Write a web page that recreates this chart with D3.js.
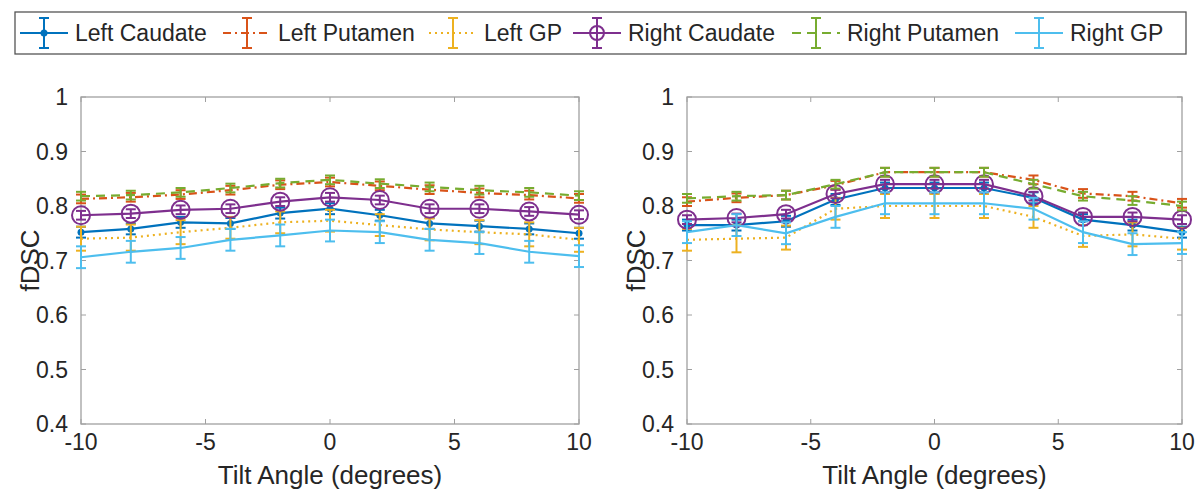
<!DOCTYPE html>
<html><head><meta charset="utf-8">
<script src="https://cdn.jsdelivr.net/npm/d3@7"></script>
<style>body{margin:0;background:#fff}svg{display:block}text{font-family:"Liberation Sans",Arial,sans-serif;fill:#262626}</style>
</head><body><svg id="c" width="1198" height="489"></svg>
<script>
const angles = [-10,-8,-6,-4,-2,0,2,4,6,8,10];
const seriesNames = ["Left Caudate","Left Putamen","Left GP","Right Caudate","Right Putamen","Right GP"];
const xTicks = [-10,-5,0,5,10];
const yTicks = [0.4,0.5,0.6,0.7,0.8,0.9,1];
const yTickLabels = ["0.4","0.5","0.6","0.7","0.8","0.9","1"];
const xLabel = "Tilt Angle (degrees)";
const yLabel = "fDSC";

// Left panel
const p1LeftCaudate   = [0.752,0.758,0.770,0.768,0.787,0.795,0.783,0.768,0.763,0.758,0.750];
const p1LeftPutamen   = [0.813,0.816,0.821,0.829,0.839,0.844,0.837,0.830,0.824,0.820,0.814];
const p1LeftGP        = [0.740,0.742,0.752,0.760,0.770,0.773,0.765,0.757,0.752,0.748,0.738];
const p1RightCaudate  = [0.783,0.786,0.793,0.795,0.808,0.816,0.811,0.795,0.795,0.790,0.784];
const p1RightPutamen  = [0.818,0.820,0.825,0.833,0.842,0.848,0.841,0.835,0.829,0.825,0.819];
const p1RightGP       = [0.706,0.716,0.723,0.738,0.746,0.755,0.752,0.738,0.732,0.716,0.708];
const p1Err = {
  "Left Caudate":  [0.010,0.010,0.010,0.010,0.010,0.010,0.010,0.010,0.010,0.010,0.010],
  "Left Putamen":  [0.008,0.008,0.008,0.008,0.008,0.008,0.008,0.008,0.008,0.008,0.008],
  "Left GP":       [0.022,0.024,0.022,0.020,0.020,0.020,0.020,0.020,0.022,0.022,0.022],
  "Right Caudate": [0.008,0.008,0.008,0.008,0.008,0.008,0.008,0.008,0.008,0.008,0.008],
  "Right Putamen": [0.008,0.008,0.008,0.008,0.008,0.008,0.008,0.008,0.008,0.008,0.008],
  "Right GP":      [0.020,0.020,0.020,0.020,0.020,0.020,0.020,0.020,0.020,0.020,0.020]
};
// Right panel
const p2LeftCaudate   = [0.765,0.765,0.772,0.812,0.833,0.833,0.833,0.815,0.775,0.765,0.752];
const p2LeftPutamen   = [0.808,0.815,0.820,0.838,0.862,0.862,0.862,0.848,0.823,0.818,0.805];
const p2LeftGP        = [0.738,0.740,0.742,0.795,0.800,0.800,0.800,0.780,0.745,0.748,0.740];
const p2RightCaudate  = [0.775,0.778,0.785,0.822,0.840,0.840,0.840,0.818,0.780,0.780,0.775];
const p2RightPutamen  = [0.814,0.818,0.820,0.840,0.862,0.862,0.862,0.840,0.818,0.810,0.800];
const p2RightGP       = [0.752,0.765,0.750,0.780,0.805,0.805,0.805,0.795,0.752,0.730,0.732];
const p2Err = {
  "Left Caudate":  [0.010,0.010,0.010,0.010,0.010,0.010,0.010,0.010,0.010,0.010,0.010],
  "Left Putamen":  [0.008,0.008,0.008,0.008,0.008,0.008,0.008,0.008,0.008,0.008,0.008],
  "Left GP":       [0.020,0.025,0.022,0.020,0.022,0.022,0.022,0.020,0.020,0.022,0.020],
  "Right Caudate": [0.008,0.008,0.008,0.008,0.008,0.008,0.008,0.008,0.008,0.008,0.008],
  "Right Putamen": [0.008,0.008,0.008,0.008,0.008,0.008,0.008,0.008,0.008,0.008,0.008],
  "Right GP":      [0.020,0.020,0.020,0.020,0.020,0.020,0.020,0.020,0.020,0.020,0.020]
};

const colors = ["#0072BD","#D95319","#EDB120","#7E2F8E","#77AC30","#4DBEEE"];
const dashes = [null,"8,4,2,4","2,4",null,"9,6",null];
const markers = ["dot","none","none","circle","none","none"];

const panels = [
  {x0:81, x1:579, vals:[p1LeftCaudate,p1LeftPutamen,p1LeftGP,p1RightCaudate,p1RightPutamen,p1RightGP], err:p1Err},
  {x0:687, x1:1182, vals:[p2LeftCaudate,p2LeftPutamen,p2LeftGP,p2RightCaudate,p2RightPutamen,p2RightGP], err:p2Err}
];
const yTop = 97, yBot = 424;
const svg = d3.select("#c");

panels.forEach(p => {
  const x = d3.scaleLinear().domain([-10,10]).range([p.x0,p.x1]);
  const y = d3.scaleLinear().domain([0.4,1]).range([yBot,yTop]);
  const g = svg.append("g");
  g.append("rect").attr("x",p.x0).attr("y",yTop).attr("width",p.x1-p.x0).attr("height",yBot-yTop)
    .attr("fill","none").attr("stroke","#a0a0a0").attr("stroke-width",1.3);
  const tl = 5;
  xTicks.forEach(t => {
    g.append("line").attr("x1",x(t)).attr("x2",x(t)).attr("y1",yBot).attr("y2",yBot-tl).attr("stroke","#a0a0a0");
    g.append("line").attr("x1",x(t)).attr("x2",x(t)).attr("y1",yTop).attr("y2",yTop+tl).attr("stroke","#a0a0a0");
    g.append("text").attr("x",x(t)).attr("y",yBot+26).attr("text-anchor","middle").attr("font-size",23).text(t);
  });
  yTicks.forEach((t,i) => {
    g.append("line").attr("x1",p.x0).attr("x2",p.x0+tl).attr("y1",y(t)).attr("y2",y(t)).attr("stroke","#a0a0a0");
    g.append("line").attr("x1",p.x1).attr("x2",p.x1-tl).attr("y1",y(t)).attr("y2",y(t)).attr("stroke","#a0a0a0");
    g.append("text").attr("x",p.x0-13).attr("y",y(t)+8).attr("text-anchor","end").attr("font-size",23).text(yTickLabels[i]);
  });
  g.append("text").attr("x",(p.x0+p.x1)/2).attr("y",yBot+60).attr("text-anchor","middle").attr("font-size",26).text(xLabel);
  g.append("text").attr("transform",`translate(${p.x0-42},${(yTop+yBot)/2}) rotate(-90)`).attr("text-anchor","middle").attr("font-size",26).text(yLabel);

  p.vals.forEach((vals,si) => {
    const name = seriesNames[si];
    const e = p.err[name];
    const c = colors[si];
    const sg = g.append("g");
    const line = d3.line().x((d,i)=>x(angles[i])).y(d=>y(d));
    sg.append("path").attr("d",line(vals)).attr("fill","none").attr("stroke",c).attr("stroke-width",2.2)
      .attr("stroke-dasharray",dashes[si]);
    vals.forEach((v,i) => {
      const cx = x(angles[i]);
      sg.append("line").attr("x1",cx).attr("x2",cx).attr("y1",y(v-e[i])).attr("y2",y(v+e[i])).attr("stroke",c).attr("stroke-width",2);
      [v-e[i], v+e[i]].forEach(w => sg.append("line").attr("x1",cx-5).attr("x2",cx+5).attr("y1",y(w)).attr("y2",y(w)).attr("stroke",c).attr("stroke-width",2));
      if (markers[si]==="dot") sg.append("circle").attr("cx",cx).attr("cy",y(v)).attr("r",3.5).attr("fill",c);
      if (markers[si]==="circle") sg.append("circle").attr("cx",cx).attr("cy",y(v)).attr("r",9).attr("fill","none").attr("stroke",c).attr("stroke-width",2);
    });
  });
});

// legend
const lg = svg.append("g");
lg.append("rect").attr("x",15).attr("y",12).attr("width",1171).attr("height",42).attr("fill","#fff").attr("stroke","#555").attr("stroke-width",1.3);
const legText = [75,278,484,628,847,1070];
const ly = 33;
seriesNames.forEach((n,i) => {
  const x1 = legText[i]-7, x0 = x1-48, cx = (x0+x1)/2, c = colors[i];
  lg.append("line").attr("x1",x0).attr("x2",x1).attr("y1",ly).attr("y2",ly).attr("stroke",c).attr("stroke-width",2.2).attr("stroke-dasharray",dashes[i]);
  lg.append("line").attr("x1",cx).attr("x2",cx).attr("y1",ly-15).attr("y2",ly+15).attr("stroke",c).attr("stroke-width",2);
  [ly-15,ly+15].forEach(yy => lg.append("line").attr("x1",cx-5).attr("x2",cx+5).attr("y1",yy).attr("y2",yy).attr("stroke",c).attr("stroke-width",2));
  if (markers[i]==="dot") lg.append("circle").attr("cx",cx).attr("cy",ly).attr("r",3.5).attr("fill",c);
  if (markers[i]==="circle") lg.append("circle").attr("cx",cx).attr("cy",ly).attr("r",7).attr("fill","none").attr("stroke",c).attr("stroke-width",2);
  lg.append("text").attr("x",legText[i]).attr("y",ly+8).attr("font-size",23).text(n);
});
</script></body></html>
